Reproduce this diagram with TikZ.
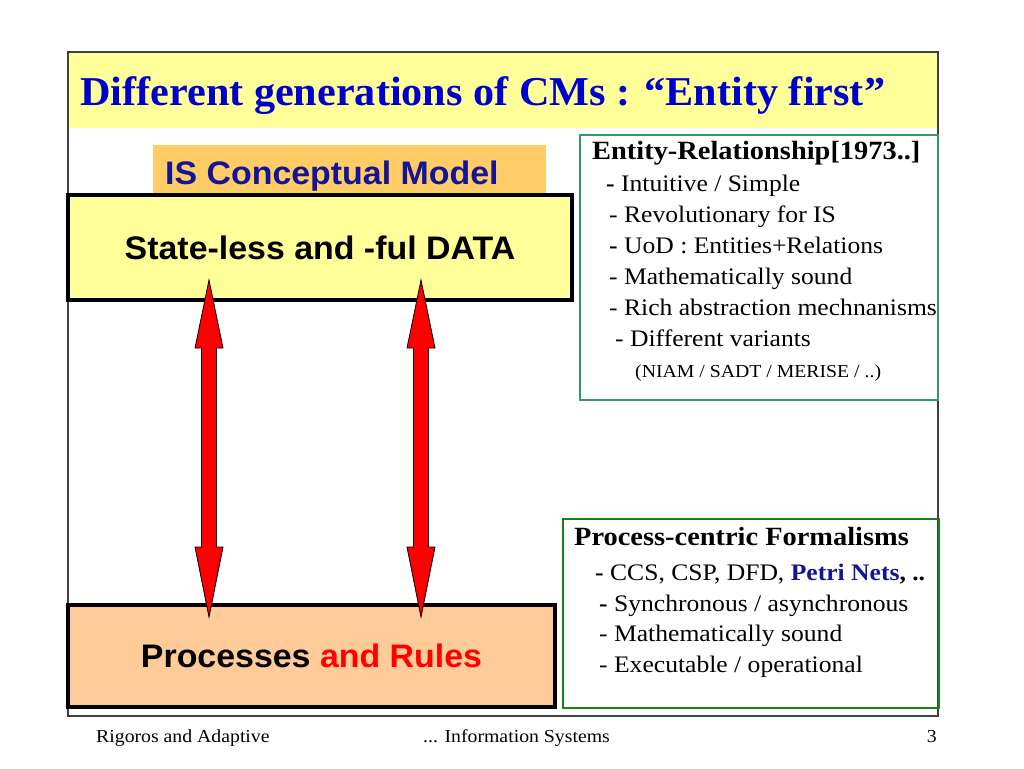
\documentclass[tikz,border=0pt]{standalone}
\usepackage{fontspec}
\setmainfont{Liberation Serif}[FakeStretch=1.08]
\newfontfamily\titlefont{Liberation Serif}[FakeStretch=1.03]
\newfontfamily\arialf{Liberation Sans}[FakeStretch=1.04]
\usetikzlibrary{calc}
\definecolor{titleblue}{RGB}{0,0,204}
\definecolor{navy}{RGB}{20,20,150}
\definecolor{bandyellow}{RGB}{255,255,153}
\definecolor{labelorange}{RGB}{255,204,102}
\definecolor{peach}{RGB}{255,204,153}
\definecolor{ergreen}{RGB}{51,153,102}
\definecolor{pgreen}{RGB}{20,130,20}
\definecolor{framegray}{RGB}{64,64,64}
\newcommand\drawDblArrow[2]{\draw[dblarrowstyle] (#1) -- ($(#1)+(14,68)$) -- ($(#1)+(7.5,68)$) -- ($(#2)+(7.5,-70)$) -- ($(#2)+(14,-70)$) -- (#2) -- ($(#2)+(-14,-70)$) -- ($(#2)+(-7.5,-70)$) -- ($(#1)+(-7.5,68)$) -- ($(#1)+(-14,68)$) -- cycle;}
\begin{document}
\begin{tikzpicture}[x=1pt,y=-1pt,
  bigbox/.style={draw=black, line width=4pt, inner sep=0pt, outer sep=0pt, anchor=north west, font=\arialf\fontsize{32.6}{38}\selectfont\bfseries},
  infobox/.style={draw, line width=2.5pt, inner sep=0pt, outer sep=0pt, anchor=north west},
  ln/.style={anchor=base west, inner sep=0pt, font=\fontsize{23.7}{28}\selectfont},
  hd/.style={anchor=base west, inner sep=0pt, font=\fontsize{26.3}{31}\selectfont\bfseries},
  dblarrowstyle/.style={draw=black, line width=0.8pt, fill=red, line join=miter},
  foot/.style={anchor=base west, inner sep=0pt, font=\fontsize{18.3}{22}\selectfont},
]
\useasboundingbox (0,0) rectangle (1024,768);
\fill[white] (0,0) rectangle (1024,768);
% title band and frame
\node[fill=bandyellow, minimum width=870pt, minimum height=76pt, inner sep=0pt, outer sep=0pt, anchor=north west] (band) at (68,52) {};
\node[draw=framegray, line width=1.5pt, minimum width=870pt, minimum height=664pt, inner sep=0pt, outer sep=0pt, anchor=north west] (frame) at (68,52) {};
\node[anchor=base west, inner sep=0pt, text=titleblue, font=\titlefont\fontsize{41}{48}\selectfont\bfseries] (title) at (80,105) {Different generations of CMs : “Entity first”};
% IS conceptual model label
\node[fill=labelorange, minimum width=393pt, minimum height=52pt, inner sep=0pt, outer sep=0pt, anchor=north west] (label) at (153,145) {};
\node[anchor=base west, inner sep=0pt, text=navy, font=\arialf\fontsize{32.6}{38}\selectfont\bfseries] (labeltext) at (165,184) {IS Conceptual Model};
% main boxes
\node[bigbox, fill=bandyellow, minimum width=504pt, minimum height=105pt] (data) at (68,195) {State-less and -ful DATA};
\node[bigbox, fill=peach, minimum width=487pt, minimum height=102pt] (proc) at (68,605) {Processes \textcolor{red}{and Rules}};
% arrows
\coordinate (t1) at (209,280);
\coordinate (b1) at (209,617);
\coordinate (t2) at (421,280);
\coordinate (b2) at (421,617);
\drawDblArrow{t1}{b1}
\drawDblArrow{t2}{b2}
% ER box
\node[infobox, draw=ergreen, minimum width=358pt, minimum height=265pt] (er) at (580,135) {};
\node[hd] (er0) at (592,159) {Entity-Relationship[1973..]};
\node[ln] (er1) at (606,191) {\textbf{-} Intuitive / Simple};
\node[ln] (er2) at (609,222) {- Revolutionary for IS};
\node[ln] (er3) at (609,253) {\textbf{-} UoD : Entities+Relations};
\node[ln] (er4) at (609,284) {- Mathematically sound};
\node[ln] (er5) at (609,315) {- Rich abstraction mechnanisms};
\node[ln] (er6) at (615,346) {- Different variants};
\node[foot] (er7) at (635,377) {(NIAM / SADT / MERISE / ..)};
% process box
\node[infobox, draw=pgreen, minimum width=376pt, minimum height=189pt] (pf) at (563,519) {};
\node[hd] (pf0) at (574,545) {Process-centric Formalisms};
\node[ln] (pf1) at (595,580) {\textbf{-} CCS, CSP, DFD, \textbf{\textcolor{navy}{Petri Nets}, ..}};
\node[ln] (pf2) at (599,611) {\textbf{-} Synchronous / asynchronous};
\node[ln] (pf3) at (599,641) {- Mathematically sound};
\node[ln] (pf4) at (599,672) {- Executable / operational};
% footer
\node[foot] (f1) at (96,742) {Rigoros and Adaptive};
\node[foot] (f2) at (423,742) {... Information Systems};
\node[foot, anchor=base east] (f3) at (937,742) {3};
\end{tikzpicture}
\end{document}
